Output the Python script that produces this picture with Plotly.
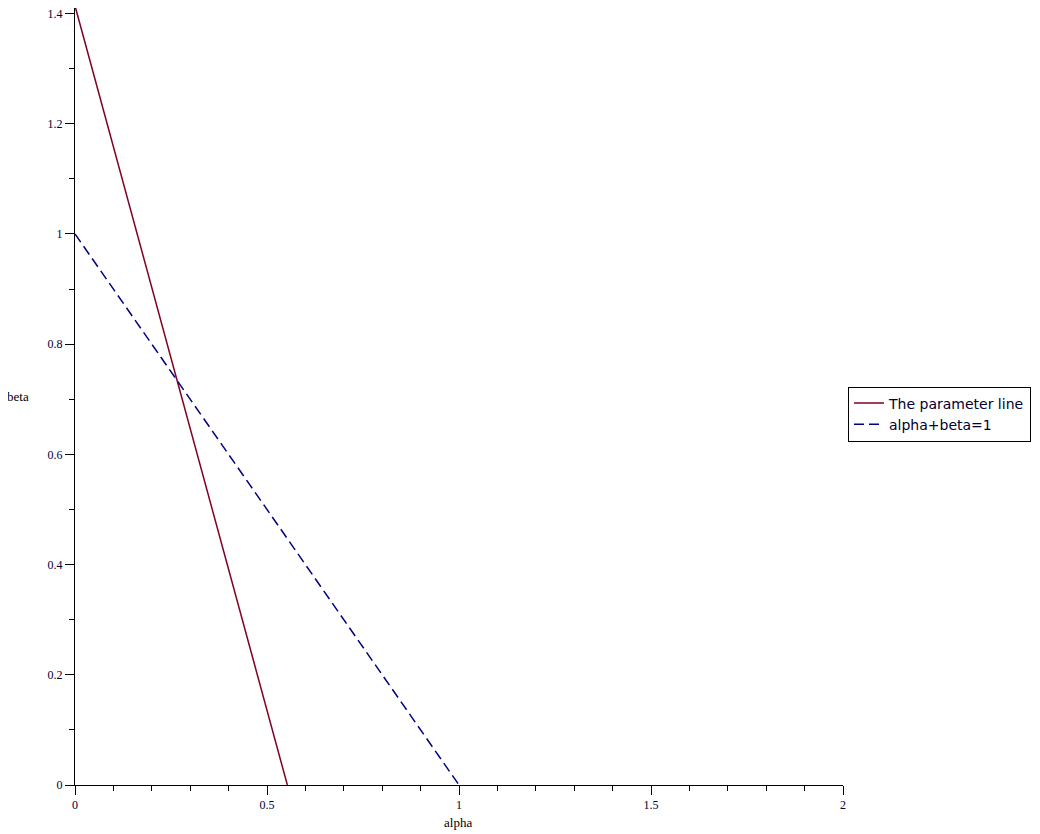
import plotly.graph_objects as go

# Data
param_alpha = [0.0, 0.553]
param_beta = [1.414, 0.0]
sum_alpha = [0.0, 1.0]
sum_beta = [1.0, 0.0]
x_ticks = [0, 0.5, 1, 1.5, 2]
x_labels = ["0", "0.5", "1", "1.5", "2"]
y_ticks = [0, 0.2, 0.4, 0.6, 0.8, 1.0, 1.2, 1.4]
y_labels = ["0", "0.2", "0.4", "0.6", "0.8", "1", "1.2", "1.4"]

# The page body has an 8px default margin; compensate in figure size/margins
PLOT_L, PLOT_R, PLOT_T, PLOT_B = 75, 843, 8, 785  # target page pixels
OFF = 8
W, H = 1040 - OFF, 834 - OFF
plot_w = PLOT_R - PLOT_L
plot_h = PLOT_B - PLOT_T


def paper_xy(px, py):
    return (px - PLOT_L) / plot_w, (PLOT_B - py) / plot_h


fig = go.Figure()
fig.add_trace(go.Scatter(x=param_alpha, y=param_beta, mode="lines",
                         name="The parameter line",
                         line=dict(color="#800020", width=1.5)))
fig.add_trace(go.Scatter(x=sum_alpha, y=sum_beta, mode="lines",
                         name="alpha+beta=1",
                         line=dict(color="#000080", width=1.5, dash="10px,5px")))

tickfont = dict(family="Liberation Serif", size=12, color="#000033")
lx, ly = paper_xy(848, 414)
fig.update_layout(
    width=W, height=H,
    paper_bgcolor="white", plot_bgcolor="white",
    margin=dict(l=PLOT_L - OFF, r=W - (PLOT_R - OFF), t=PLOT_T - OFF,
                b=H - (PLOT_B - OFF), autoexpand=False),
    showlegend=True,
    legend=dict(x=lx, y=ly, xanchor="left", yanchor="middle",
                bordercolor="black", borderwidth=1, bgcolor="white",
                font=dict(family="DejaVu Sans", size=14, color="#000033"),
                tracegroupgap=0, itemwidth=30),
    xaxis=dict(range=[0, 2], tickvals=x_ticks, ticktext=x_labels,
               showgrid=False, zeroline=False, showline=True,
               linecolor="black", linewidth=1,
               ticks="outside", ticklen=9, tickcolor="black",
               tickfont=tickfont, ticklabeloverflow="allow",
               minor=dict(ticks="outside", dtick=0.1, ticklen=5,
                          tickcolor="black", showgrid=False)),
    yaxis=dict(range=[0, 1.41], tickvals=y_ticks, ticktext=y_labels,
               showgrid=False, zeroline=False, showline=True,
               linecolor="black", linewidth=1,
               ticks="outside", ticklen=9, tickcolor="black",
               tickfont=tickfont, ticklabeloverflow="allow",
               minor=dict(ticks="outside", dtick=0.1, ticklen=5,
                          tickcolor="black", showgrid=False)),
)
ax, ay = paper_xy(458, 822)
bx, by = paper_xy(18, 397)
fig.add_annotation(text="alpha", x=ax, y=ay, xref="paper", yref="paper",
                   showarrow=False, xanchor="center", yanchor="middle",
                   font=dict(family="Liberation Serif", size=13, color="black"))
fig.add_annotation(text="beta", x=bx, y=by, xref="paper", yref="paper",
                   showarrow=False, xanchor="center", yanchor="middle",
                   font=dict(family="Liberation Serif", size=13, color="black"))

fig.write_html("out.html")
